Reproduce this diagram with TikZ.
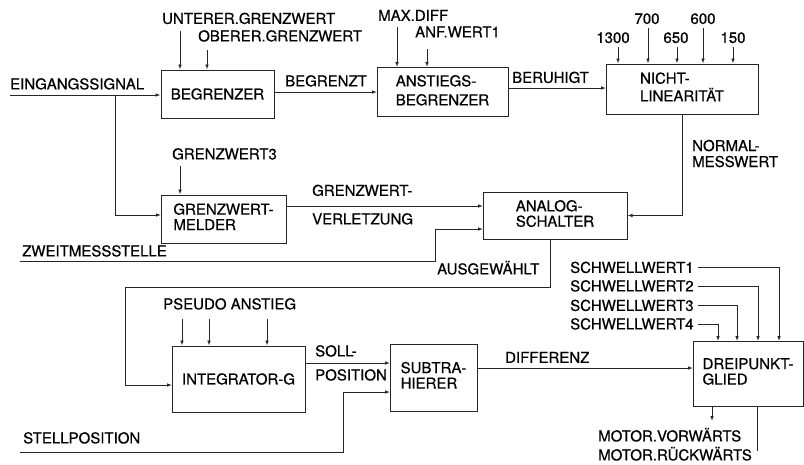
\documentclass[tikz,border=0pt]{standalone}
\usepackage{fontspec}
\setmainfont{TeX Gyre Heros}[FakeBold=0.6]
\usetikzlibrary{arrows.meta,calc}
\newcommand{\twoline}[2]{\begin{tabular}{@{}l@{}}#1\\#2\end{tabular}}
\begin{document}
\begin{tikzpicture}[x=1pt,y=-1pt,
  blk/.style={draw=black!85, line width=1pt, inner sep=0pt, font=\fontsize{15}{15}\selectfont},
  lbl/.style={inner sep=0pt, text height=10.8pt, text depth=0pt, anchor=west, align=left, font=\fontsize{15}{16}\selectfont},
  num/.style={lbl, anchor=center},
  ln/.style={line width=0.9pt, draw=black!85},
  arr/.style={ln, -{Latex[length=5pt,width=3.6pt]}}]
\useasboundingbox (0,0) rectangle (804,464);

% blocks
\node[blk, minimum width=113pt, minimum height=48pt] (begr) at (217.5,94) {BEGRENZER};
\node[blk, minimum width=131pt, minimum height=49pt, font=\fontsize{15}{19}\selectfont] (anst) at (442.5,92) {\twoline{ANSTIEGS-}{BEGRENZER}};
\node[blk, minimum width=152pt, minimum height=50pt, font=\fontsize{15}{14}\selectfont] (nicht) at (682,89) {\twoline{NICHT-}{LINEARITÄT}};
\node[blk, minimum width=125pt, minimum height=48pt] (grenzm) at (223.5,219) {\twoline{GRENZWERT-}{MELDER}};
\node[blk, minimum width=144pt, minimum height=47pt, font=\fontsize{15}{14}\selectfont] (analog) at (555,215.5) {\twoline{ANALOG-}{SCHALTER}};
\node[blk, minimum width=133pt, minimum height=66pt] (integ) at (238.5,379) {INTEGRATOR-G};
\node[blk, minimum width=87pt, minimum height=67pt] (subtr) at (433.5,377.5) {\twoline{SUBTRA-}{HIERER}};
\node[blk, minimum width=110pt, minimum height=65pt, font=\fontsize{15}{14}\selectfont] (drei) at (748,373.5) {\twoline{DREIPUNKT-}{GLIED}};

% labels
\node[lbl] (lein) at (10,84) {EINGANGSSIGNAL};
\node[lbl] (lunt) at (162,18.5) {UNTERER.GRENZWERT};
\node[lbl] (lobe) at (198,36) {OBERER.GRENZWERT};
\node[lbl] (lbeg) at (285,81) {BEGRENZT};
\node[lbl] (lmax) at (378,15.5) {MAX.DIFF};
\node[lbl] (lanf) at (415,32) {ANF.WERT1};
\node[lbl] (lber) at (512,77.5) {BERUHIGT};
\node[num] (n1300) at (613,37.5) {1300};
\node[num] (n700) at (647,18.5) {700};
\node[num] (n650) at (676,37.5) {650};
\node[num] (n600) at (703,18.5) {600};
\node[num] (n150) at (733,37.5) {150};
\node[lbl] (lnorm) at (692,161.6) {NORMAL-\\MESSWERT};
\node[lbl] (lgw3) at (172,154) {GRENZWERT3};
\node[lbl] (lgwv1) at (312,190.5) {GRENZWERT-};
\node[lbl] (lgwv2) at (312,219) {VERLETZUNG};
\node[lbl] (lzw) at (22,251) {ZWEITMESSSTELLE};
\node[lbl] (laus) at (437,269) {AUSGEWÄHLT};
\node[lbl] (lsw1) at (570,267.5) {SCHWELLWERT1};
\node[lbl] (lsw2) at (570,286) {SCHWELLWERT2};
\node[lbl] (lsw3) at (570,305.5) {SCHWELLWERT3};
\node[lbl] (lsw4) at (570,324) {SCHWELLWERT4};
\node[lbl] (lps) at (163,304) {PSEUDO ANSTIEG};
\node[lbl] (lsoll) at (315,351) {SOLL-};
\node[lbl] (lpos) at (315,375) {POSITION};
\node[lbl] (lst) at (23,438) {STELLPOSITION};
\node[lbl] (ldiff) at (505,357.5) {DIFFERENZ};
\node[lbl] (lmv) at (598,436) {MOTOR.VORWÄRTS};
\node[lbl] (lmr) at (598,455) {MOTOR.RÜCKWÄRTS};

% coordinates
\coordinate (ein) at (10,95);
\coordinate (br) at (115,95);
\coordinate (cu) at (180,31);
\coordinate (co) at (207,50);
\coordinate (cm) at (397,27);
\coordinate (ca) at (427,49);
\coordinate (c1300) at (618,47);
\coordinate (c700) at (648,28);
\coordinate (c650) at (677,47);
\coordinate (c600) at (703,28);
\coordinate (c150) at (733,47);
\coordinate (cg3) at (180,166);
\coordinate (a1) at (483,206);
\coordinate (a2) at (483,229);
\coordinate (zw) at (20,261);
\coordinate (g1) at (161,215);
\coordinate (fb) at (125,287);
\coordinate (i1) at (172,385);
\coordinate (cp1) at (182,319);
\coordinate (cp2) at (209,319);
\coordinate (cp3) at (267,319);
\coordinate (s1) at (390,363);
\coordinate (s2) at (390,392);
\coordinate (st) at (20,452);
\coordinate (d1) at (693,368);
\coordinate (t1) at (779,341);
\coordinate (t2) at (758,341);
\coordinate (t3) at (737,341);
\coordinate (t4) at (718,341);
\coordinate (mv) at (712,421);
\coordinate (mr) at (757,451);
\coordinate (b1) at (377,92);
\coordinate (n1) at (606,88);

% connectors
\draw[arr] (ein) -- (ein -| begr.west);
\draw[arr] (br) |- (g1);
\draw[arr] (cu) -- (cu |- begr.north);
\draw[arr] (co) -- (co |- begr.north);
\draw[arr] (begr.east |- b1) -- (b1);
\draw[arr] (cm) -- (cm |- anst.north);
\draw[arr] (ca) -- (ca |- anst.north);
\draw[arr] (anst.east |- n1) -- (n1);
\draw[arr] (c1300) -- (c1300 |- nicht.north);
\draw[arr] (c700) -- (c700 |- nicht.north);
\draw[arr] (c650) -- (c650 |- nicht.north);
\draw[arr] (c600) -- (c600 |- nicht.north);
\draw[arr] (c150) -- (c150 |- nicht.north);
\draw[arr] (nicht.south) |- (analog.east);
\draw[arr] (cg3) -- (cg3 |- grenzm.north);
\draw[arr] (grenzm.east |- a1) -- (a1);
\draw[arr] (zw) -- ++(415,0) |- (a2);
\draw[arr] ([xshift=-5pt]analog.south) |- (fb) |- (i1);
\draw[arr] (cp1) -- (cp1 |- integ.north);
\draw[arr] (cp2) -- (cp2 |- integ.north);
\draw[arr] (cp3) -- (cp3 |- integ.north);
\draw[arr] (integ.east |- s1) -- (s1);
\draw[arr] (st) -- ++(323,0) |- (s2);
\draw[arr] (subtr.east |- d1) -- (d1);
\draw[arr] ([xshift=4pt]lsw1.east) -| (t1);
\draw[arr] ([xshift=4pt]lsw2.east) -| (t2);
\draw[arr] ([xshift=4pt]lsw3.east) -| (t3);
\draw[arr] ([xshift=4pt]lsw4.east) -| (t4);
\draw[arr] (drei.south -| mv) -- (mv);
\draw[ln] (drei.south -| mr) -- (mr);
\end{tikzpicture}
\end{document}
